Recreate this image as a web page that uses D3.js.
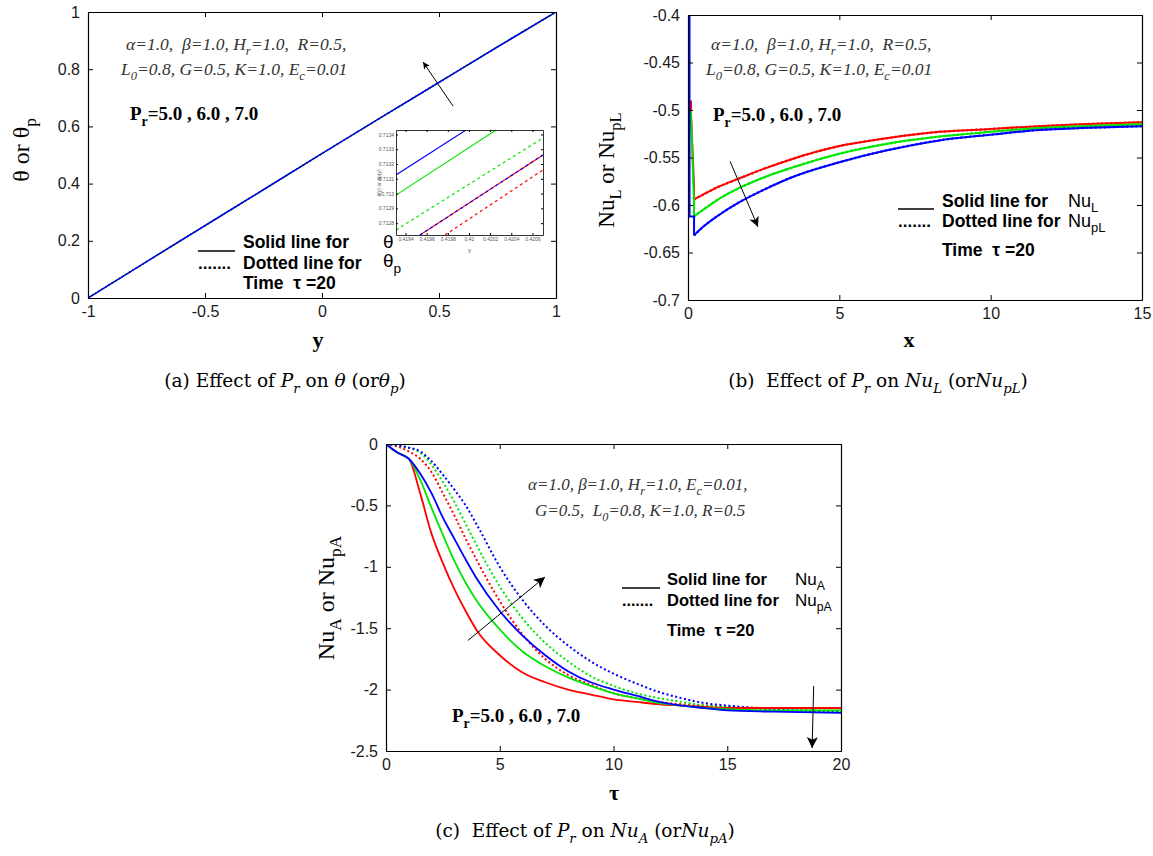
<!DOCTYPE html>
<html>
<head>
<meta charset="utf-8">
<script src="https://cdn.jsdelivr.net/npm/d3@7"></script>
<style>
  body { margin: 0; background: #fff; }
  svg { display: block; }
</style>
</head>
<body>
<svg id="chart" width="1153" height="856"></svg>
<script>
// ---------- data ----------
const prLabels = ["5.0", "6.0", "7.0"];
const lineColors = ["#ff0000", "#00e600", "#0000ff"];

// (a) theta (and theta_p) vs y, tau = 20 -- the three Pr curves coincide at this scale
const aY = [-1, -0.75, -0.5, -0.25, 0, 0.25, 0.5, 0.75, 1];
const thetaPr5 = [0, 0.127, 0.253, 0.379, 0.505, 0.630, 0.754, 0.878, 1];
const thetaPr6 = [0, 0.127, 0.253, 0.379, 0.505, 0.630, 0.754, 0.878, 1];
const thetaPr7 = [0, 0.127, 0.253, 0.379, 0.505, 0.630, 0.754, 0.878, 1];
const aXTicks = [-1, -0.5, 0, 0.5, 1];
const aYTicks = [0, 0.2, 0.4, 0.6, 0.8, 1];

// (a) inset: zoom around y = 0.42 (start / end of each straight segment)
const insetXTicks = [0.4194, 0.4196, 0.4198, 0.42, 0.4202, 0.4204, 0.4206];
const insetYTicks = [0.7128, 0.7129, 0.713, 0.7131, 0.7132, 0.7133, 0.7134];
const insetSolidX = [[0.419537, 0.42070], [0.41931, 0.420256], [0.41931, 0.419972]];
const insetSolidT = [[0.71272, 0.713261], [0.71299, 0.71343], [0.713126, 0.71343]];
const insetDashX = [[0.419773, 0.42070], [0.41931, 0.42070], [0.419537, 0.42070]];
const insetDashT = [[0.71272, 0.71316], [0.712754, 0.713376], [0.71272, 0.713261]];

// (b) local Nusselt number vs x
const spikeXPr5 = [0.1, 0.1, 0.2, 0.2];
const spikeNuPr5 = [-0.49, -0.505, -0.58, -0.594];
const spikeXPr6 = [0.1, 0.1, 0.2, 0.2];
const spikeNuPr6 = [-0.50, -0.505, -0.60, -0.612];
const spikeXPr7 = [0.05, 0.05, 0.2, 0.2];
const spikeNuPr7 = [-0.40, -0.612, -0.612, -0.632];
const bX = [0.2, 0.5, 1, 1.7, 2.5, 3.5, 5, 6.5, 8.3, 10, 11.6, 13, 15];
const nuLPr5 = [-0.594, -0.589, -0.581, -0.572, -0.562, -0.551, -0.538, -0.530, -0.523, -0.520, -0.517, -0.515, -0.513];
const nuLPr6 = [-0.612, -0.605, -0.594, -0.582, -0.571, -0.560, -0.546, -0.536, -0.528, -0.523, -0.519, -0.517, -0.515];
const nuLPr7 = [-0.632, -0.623, -0.611, -0.597, -0.584, -0.570, -0.555, -0.543, -0.532, -0.526, -0.521, -0.519, -0.517];
const bXTicks = [0, 5, 10, 15];
const bYTicks = [-0.7, -0.65, -0.6, -0.55, -0.5, -0.45, -0.4];

// (c) average Nusselt number vs tau
const tau = [0, 0.5, 1, 1.5, 2, 2.5, 3, 3.5, 4, 5, 6, 7, 8, 9, 10, 11, 12, 13, 14, 15, 17, 20];
const nuAPr5 = [0, -0.07, -0.12, -0.40, -0.73, -0.97, -1.18, -1.36, -1.52, -1.72, -1.86, -1.94, -2.00, -2.04, -2.08, -2.10, -2.12, -2.13, -2.14, -2.15, -2.15, -2.15];
const nuAPr6 = [0, -0.07, -0.12, -0.29, -0.52, -0.74, -0.95, -1.13, -1.28, -1.51, -1.69, -1.81, -1.90, -1.97, -2.03, -2.07, -2.11, -2.13, -2.15, -2.16, -2.17, -2.17];
const nuAPr7 = [0, -0.07, -0.12, -0.24, -0.40, -0.60, -0.77, -0.94, -1.10, -1.36, -1.56, -1.72, -1.85, -1.94, -2.00, -2.05, -2.10, -2.13, -2.15, -2.17, -2.18, -2.19];
const nuPAPr5 = [0, -0.02, -0.06, -0.12, -0.23, -0.40, -0.58, -0.77, -0.95, -1.28, -1.55, -1.75, -1.88, -1.96, -2.03, -2.07, -2.10, -2.12, -2.13, -2.14, -2.15, -2.15];
const nuPAPr6 = [0, -0.01, -0.03, -0.07, -0.17, -0.31, -0.47, -0.65, -0.83, -1.16, -1.42, -1.62, -1.77, -1.89, -1.97, -2.03, -2.07, -2.10, -2.13, -2.14, -2.16, -2.17];
const nuPAPr7 = [0, -0.01, -0.03, -0.06, -0.14, -0.25, -0.37, -0.50, -0.66, -1.00, -1.27, -1.48, -1.64, -1.77, -1.87, -1.95, -2.02, -2.07, -2.11, -2.13, -2.16, -2.18];
const cXTicks = [0, 5, 10, 15, 20];
const cYTicks = [-2.5, -2, -1.5, -1, -0.5, 0];

// ---------- setup ----------
const SANS = "'Liberation Sans', Arial, sans-serif";
const SERIF = "'Liberation Serif', 'Times New Roman', serif";
const CAP = "'DejaVu Serif', serif";
const svg = d3.select("#chart");
svg.append("rect").attr("width", 1153).attr("height", 856).attr("fill", "#fff");
const defs = svg.append("defs");

function marker(id, len, wid) {
  defs.append("marker").attr("id", id)
    .attr("viewBox", "0 0 10 10").attr("refX", 10).attr("refY", 5)
    .attr("markerWidth", len).attr("markerHeight", wid)
    .attr("markerUnits", "userSpaceOnUse").attr("orient", "auto")
    .append("path").attr("d", "M0,0 L10,5 L0,10 L2.5,5 Z").attr("fill", "#000");
}
marker("headS", 10, 7);
marker("headM", 15, 10);
marker("headL", 15, 11);

// text with subscripts
function rich(parent, x, y, parts, size, opts = {}) {
  const t = parent.append("text").attr("x", x).attr("y", y)
    .attr("font-size", size).attr("font-family", opts.family || SERIF)
    .attr("fill", opts.fill || "#000").style("white-space", "pre");
  if (opts.weight) t.attr("font-weight", opts.weight);
  if (opts.italic) t.attr("font-style", "italic");
  if (opts.anchor) t.attr("text-anchor", opts.anchor);
  if (opts.transform) t.attr("transform", opts.transform);
  let shift = 0;
  parts.forEach(p => {
    const s = typeof p === "string" ? { t: p } : p;
    const target = s.sub ? size * 0.3 : 0;
    const ts = t.append("tspan").text(s.t);
    if (target !== shift) ts.attr("dy", target - shift);
    shift = target;
    if (s.sub) ts.attr("font-size", size * 0.72);
    if (s.it) ts.attr("font-style", "italic");
    if (s.family) ts.attr("font-family", s.family);
    if (s.weight) ts.attr("font-weight", s.weight);
  });
  return t;
}

// boxed axes, matlab style ticks pointing inwards
function frame(xs, ys, xTicks, yTicks, opts = {}) {
  const g = svg.append("g");
  const [xl, xr] = xs.range(), [yb, yt] = ys.range();
  const tk = opts.tick || 5, fs = opts.fs || 16, pad = opts.pad || 8;
  const fx = opts.fx || (d => String(d)), fy = opts.fy || (d => String(d));
  const axes = [
    [d3.axisBottom(xs).tickValues(xTicks).tickFormat(fx), `translate(0,${yb})`],
    [d3.axisTop(xs).tickValues(xTicks).tickFormat(""), `translate(0,${yt})`],
    [d3.axisLeft(ys).tickValues(yTicks).tickFormat(fy), `translate(${xl},0)`],
    [d3.axisRight(ys).tickValues(yTicks).tickFormat(""), `translate(${xr},0)`]
  ];
  axes.forEach(([ax, tr]) => {
    g.append("g").attr("transform", tr)
      .call(ax.tickSizeInner(-tk).tickSizeOuter(0).tickPadding(pad))
      .call(a => a.select(".domain").attr("stroke", "#000").attr("stroke-width", opts.sw || 1.2))
      .call(a => a.selectAll(".tick line").attr("stroke", "#000"))
      .call(a => a.selectAll("text").attr("font-family", SANS).attr("font-size", fs).attr("fill", "#1a1a1a"));
  });
  return g;
}

function clip(id, xs, ys) {
  const [xl, xr] = xs.range(), [yb, yt] = ys.range();
  defs.append("clipPath").attr("id", id).append("rect")
    .attr("x", xl).attr("y", yt).attr("width", xr - xl).attr("height", yb - yt);
}

function arrow(xs, ys, from, to, head, sw) {
  svg.append("line")
    .attr("x1", xs(from[0])).attr("y1", ys(from[1]))
    .attr("x2", xs(to[0])).attr("y2", ys(to[1]))
    .attr("stroke", "#000").attr("stroke-width", sw || 1)
    .attr("marker-end", `url(#${head})`);
}

function prLabel(x, y) {
  rich(svg, x, y, ["P", { t: "r", sub: true }, "=" + prLabels.join(" , ")], 19, { weight: "bold" });
}

function legendText(x, ys, size) {
  [["Solid line for", ys[0]], ["Dotted line for", ys[1]], ["Time  τ =20", ys[2]]].forEach(([s, y]) => {
    svg.append("text").attr("x", x).attr("y", y).attr("font-family", SANS).attr("font-weight", "bold")
      .attr("font-size", size).style("white-space", "pre").text(s);
  });
}

// ---------- (a) ----------
const xA = d3.scaleLinear().domain([-1, 1]).range([88, 556]);
const yA = d3.scaleLinear().domain([0, 1]).range([298, 12]);
clip("clipA", xA, yA);
const lineA = d3.line().x(d => xA(d[0])).y(d => yA(d[1])).curve(d3.curveMonotoneX);
const gA = svg.append("g").attr("clip-path", "url(#clipA)");
[thetaPr5, thetaPr6, thetaPr7].forEach((vals, i) => {
  gA.append("path").datum(d3.zip(aY, vals)).attr("d", lineA)
    .attr("fill", "none").attr("stroke", lineColors[i]).attr("stroke-width", 1.3)
    .attr("stroke-dasharray", "2,2");
  gA.append("path").datum(d3.zip(aY, vals)).attr("d", lineA)
    .attr("fill", "none").attr("stroke", lineColors[i]).attr("stroke-width", 1.3);
});
frame(xA, yA, aXTicks, aYTicks);

rich(svg, 126, 50, ["α=1.0,  β=1.0, H", { t: "r", sub: true }, "=1.0,  R=0.5,"], 17.5, { italic: true, fill: "#333" });
rich(svg, 121, 75, ["L", { t: "0", sub: true }, "=0.8, G=0.5, K=1.0, E", { t: "c", sub: true }, "=0.01"], 17.5, { italic: true, fill: "#333" });
prLabel(130, 120);
arrow(xA, yA, [0.56, 0.671], [0.432, 0.825], "headS", 1);

// legend (a)
svg.append("line").attr("x1", 198).attr("x2", 235).attr("y1", 251).attr("y2", 251).attr("stroke", "#000").attr("stroke-width", 1.3);
svg.append("text").attr("x", 198).attr("y", 269).attr("font-family", SANS).attr("font-weight", "bold").attr("font-size", 17).text(".......");
legendText(243, [248, 269, 289], 17.5);

// inset (a)
const xI = d3.scaleLinear().domain([0.41931, 0.42070]).range([396, 543]);
const yI = d3.scaleLinear().domain([0.71272, 0.71343]).range([235, 130]);
svg.append("rect").attr("x", 396).attr("y", 130).attr("width", 147).attr("height", 105).attr("fill", "#fff");
clip("clipI", xI, yI);
const lineI = d3.line().x(d => xI(d[0])).y(d => yI(d[1]));
const gI = svg.append("g").attr("clip-path", "url(#clipI)");
insetSolidX.forEach((xs, i) => {
  gI.append("path").datum(d3.zip(xs, insetSolidT[i])).attr("d", lineI)
    .attr("fill", "none").attr("stroke", lineColors[i]).attr("stroke-width", 1.1);
});
insetDashX.forEach((xs, i) => {
  gI.append("path").datum(d3.zip(xs, insetDashT[i])).attr("d", lineI)
    .attr("fill", "none").attr("stroke", lineColors[i]).attr("stroke-width", 1.2).attr("stroke-dasharray", "3,3");
});
frame(xI, yI, insetXTicks, insetYTicks, { tick: 2, fs: 5, pad: 2, sw: 0.8, fx: d3.format(".4~f"), fy: d3.format(".4~f") })
  .selectAll("text").attr("fill", "#555");
svg.append("text").attr("x", 468).attr("y", 252).attr("font-family", SANS).attr("font-size", 6).attr("fill", "#555").text("y");
svg.append("text").attr("transform", "translate(381,183) rotate(-90)").attr("text-anchor", "middle")
  .attr("font-family", SANS).attr("font-size", 5).attr("fill", "#555").text("θ(y) or θp(y)");

rich(svg, 383, 248, ["θ"], 19, { family: SANS });
rich(svg, 383, 267, ["θ", { t: "p", sub: true }], 19, { family: SANS });

// axis titles (a)
rich(svg, 0, 0, ["θ or θ", { t: "p", sub: true }], 24, { anchor: "middle", transform: "translate(29,150) rotate(-90)" });
svg.append("text").attr("x", 318).attr("y", 347).attr("text-anchor", "middle")
  .attr("font-family", SERIF).attr("font-weight", "bold").attr("font-size", 22).text("y");

// ---------- (b) ----------
const xB = d3.scaleLinear().domain([0, 15]).range([688, 1142]);
const yB = d3.scaleLinear().domain([-0.7, -0.4]).range([300, 15]);
clip("clipB", xB, yB);
const gB = svg.append("g").attr("clip-path", "url(#clipB)");
const lineBl = d3.line().x(d => xB(d[0])).y(d => yB(d[1]));
const lineBc = d3.line().x(d => xB(d[0])).y(d => yB(d[1])).curve(d3.curveMonotoneX);
const spikesX = [spikeXPr5, spikeXPr6, spikeXPr7];
const spikesY = [spikeNuPr5, spikeNuPr6, spikeNuPr7];
[nuLPr5, nuLPr6, nuLPr7].forEach((vals, i) => {
  gB.append("path").datum(d3.zip(bX, vals)).attr("d", lineBc)
    .attr("fill", "none").attr("stroke", lineColors[i]).attr("stroke-width", 2);
  gB.append("path").datum(d3.zip(bX, vals)).attr("d", lineBc)
    .attr("fill", "none").attr("stroke", lineColors[i]).attr("stroke-width", 2.4).attr("stroke-dasharray", "1.5,3");
  gB.append("path").datum(d3.zip(spikesX[i], spikesY[i])).attr("d", lineBl)
    .attr("fill", "none").attr("stroke", lineColors[i]).attr("stroke-width", 2);
});
frame(xB, yB, bXTicks, bYTicks);

rich(svg, 711, 50, ["α=1.0,  β=1.0, H", { t: "r", sub: true }, "=1.0,  R=0.5,"], 17.5, { italic: true, fill: "#333" });
rich(svg, 706, 75, ["L", { t: "0", sub: true }, "=0.8, G=0.5, K=1.0, E", { t: "c", sub: true }, "=0.01"], 17.5, { italic: true, fill: "#333" });
prLabel(713, 121);
arrow(xB, yB, [1.39, -0.554], [2.31, -0.623], "headM", 1);

svg.append("line").attr("x1", 898).attr("x2", 934).attr("y1", 209).attr("y2", 209).attr("stroke", "#000").attr("stroke-width", 1.3);
svg.append("text").attr("x", 898).attr("y", 227).attr("font-family", SANS).attr("font-weight", "bold").attr("font-size", 17).text(".......");
legendText(942, [207, 227, 256], 17.5);
rich(svg, 1068, 207, ["Nu", { t: "L", sub: true }], 18, { family: SANS });
rich(svg, 1068, 227, ["Nu", { t: "pL", sub: true }], 18, { family: SANS });

rich(svg, 0, 0, ["Nu", { t: "L", sub: true }, " or Nu", { t: "pL", sub: true }], 23, { anchor: "middle", transform: "translate(614,170) rotate(-90)" });
svg.append("text").attr("x", 909).attr("y", 347).attr("text-anchor", "middle")
  .attr("font-family", SERIF).attr("font-weight", "bold").attr("font-size", 22).text("x");

// ---------- (c) ----------
const xC = d3.scaleLinear().domain([0, 20]).range([386, 841]);
const yC = d3.scaleLinear().domain([-2.5, 0]).range([751, 444]);
clip("clipC", xC, yC);
const gC = svg.append("g").attr("clip-path", "url(#clipC)");
const lineC = d3.line().x(d => xC(d[0])).y(d => yC(d[1])).curve(d3.curveMonotoneX);
[nuPAPr5, nuPAPr6, nuPAPr7].forEach((vals, i) => {
  gC.append("path").datum(d3.zip(tau, vals)).attr("d", lineC)
    .attr("fill", "none").attr("stroke", lineColors[i]).attr("stroke-width", 2).attr("stroke-dasharray", "2,2.5");
});
[nuAPr5, nuAPr6, nuAPr7].forEach((vals, i) => {
  gC.append("path").datum(d3.zip(tau, vals)).attr("d", lineC)
    .attr("fill", "none").attr("stroke", lineColors[i]).attr("stroke-width", 1.8);
});
frame(xC, yC, cXTicks, cYTicks);

rich(svg, 528, 490, ["α=1.0, β=1.0, H", { t: "r", sub: true }, "=1.0, E", { t: "c", sub: true }, "=0.01,"], 17, { italic: true, fill: "#333" });
rich(svg, 535, 516, ["G=0.5,  L", { t: "0", sub: true }, "=0.8, K=1.0, R=0.5"], 17, { italic: true, fill: "#333" });
prLabel(452, 722);
arrow(xC, yC, [3.6, -1.60], [6.99, -1.083], "headL", 1);
arrow(xC, yC, [18.8, -1.97], [18.73, -2.476], "headL", 1);

svg.append("line").attr("x1", 622).attr("x2", 660).attr("y1", 588).attr("y2", 588).attr("stroke", "#000").attr("stroke-width", 1.3);
svg.append("text").attr("x", 622).attr("y", 606).attr("font-family", SANS).attr("font-weight", "bold").attr("font-size", 16).text(".......");
legendText(667, [585, 606, 636], 16.5);
rich(svg, 795, 585, ["Nu", { t: "A", sub: true }], 17, { family: SANS });
rich(svg, 795, 606, ["Nu", { t: "pA", sub: true }], 17, { family: SANS });

rich(svg, 0, 0, ["Nu", { t: "A", sub: true }, " or Nu", { t: "pA", sub: true }], 24, { anchor: "middle", transform: "translate(334,598) rotate(-90)" });
svg.append("text").attr("x", 614).attr("y", 800).attr("text-anchor", "middle")
  .attr("font-family", SERIF).attr("font-weight", "bold").attr("font-size", 22).text("τ");

// ---------- captions ----------
const capOpts = { anchor: "middle", family: CAP };
rich(svg, 285, 387, ["(a) Effect of ", { t: "P", it: true }, { t: "r", sub: true, it: true }, " on ", { t: "θ", it: true },
  " (or", { t: "θ", it: true }, { t: "p", sub: true, it: true }, ")"], 18.5, capOpts);
rich(svg, 878, 387, ["(b)  Effect of ", { t: "P", it: true }, { t: "r", sub: true, it: true }, " on ", { t: "Nu", it: true },
  { t: "L", sub: true, it: true }, " (or", { t: "Nu", it: true }, { t: "pL", sub: true, it: true }, ")"], 18.5, capOpts);
rich(svg, 585, 837, ["(c)  Effect of ", { t: "P", it: true }, { t: "r", sub: true, it: true }, " on ", { t: "Nu", it: true },
  { t: "A", sub: true, it: true }, " (or", { t: "Nu", it: true }, { t: "pA", sub: true, it: true }, ")"], 18.5, capOpts);
</script>
</body>
</html>
